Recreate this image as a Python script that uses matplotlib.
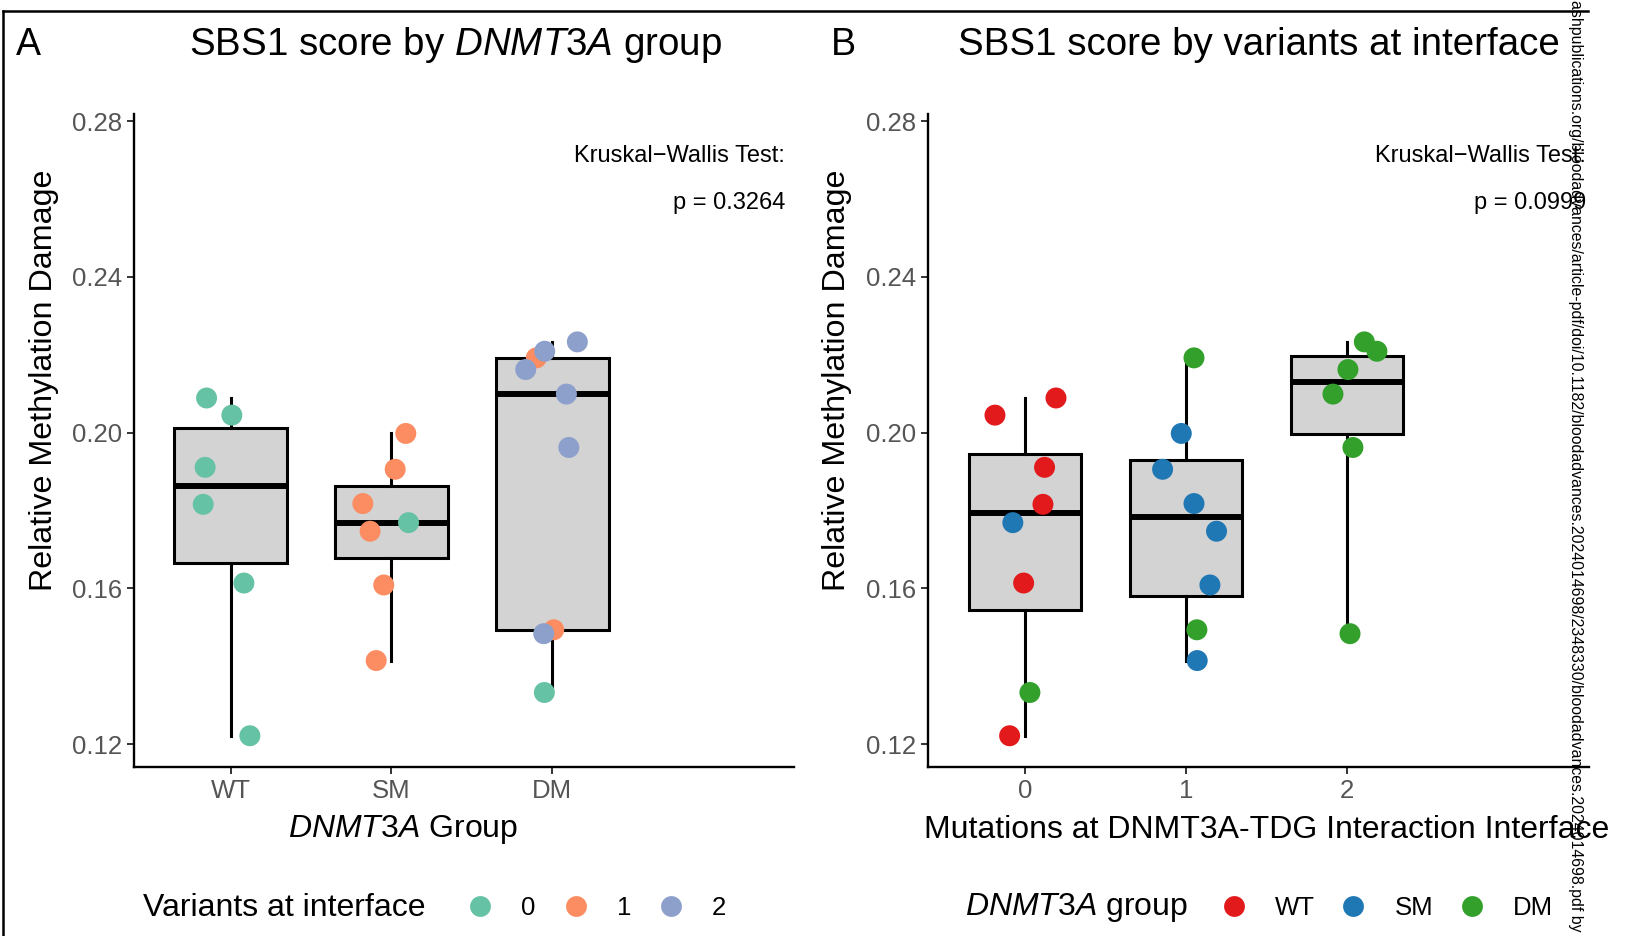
import matplotlib
matplotlib.use("Agg")
import matplotlib.pyplot as plt
from matplotlib.lines import Line2D
import numpy as np

plt.rcParams['font.family'] = ['Liberation Sans', 'DejaVu Sans']
plt.rcParams['mathtext.fontset'] = 'custom'
plt.rcParams['mathtext.rm'] = 'Liberation Sans'
plt.rcParams['mathtext.it'] = 'Liberation Sans:italic'
plt.rcParams['mathtext.bf'] = 'Liberation Sans:bold'

# samples
groups = ['WT'] * 6 + ['SM'] * 7 + ['DM'] * 9
variants = [0, 0, 0, 0, 0, 0,
            0, 1, 1, 1, 1, 1, 1,
            0, 1, 1, 2, 2, 2, 2, 2, 2]
scores = [0.2089, 0.2045, 0.1911, 0.1816, 0.1614, 0.1222,
          0.1769, 0.1998, 0.1906, 0.1818, 0.1747, 0.1609, 0.1415,
          0.1333, 0.2192, 0.1494, 0.2233, 0.2209, 0.2162, 0.2099, 0.1962, 0.1484]
# horizontal jitter of each dot, panel A and panel B
jitter_a = [-0.149, 0.008, -0.158, -0.170, 0.083, 0.120,
            0.106, 0.089, 0.023, -0.178, -0.133, -0.048, -0.095,
            -0.050, -0.100, 0.008, 0.155, -0.048, -0.166, 0.087, 0.102, -0.054]
jitter_b = [0.193, -0.186, 0.122, 0.112, -0.008, -0.095,
            -0.075, -0.029, -0.145, 0.050, 0.190, 0.149, 0.070,
            0.031, 0.050, 0.068, 0.108, 0.186, 0.006, -0.087, 0.037, 0.019]

group_names = ['WT', 'SM', 'DM']
variant_levels = [0, 1, 2]
variant_colors = ['#66C2A5', '#FC8D62', '#8DA0CB']
group_colors = ['#E31A1C', '#1F78B4', '#33A02C']
yticks = [0.12, 0.16, 0.20, 0.24, 0.28]
pvals = ['0.3264', '0.0999']

scores = np.array(scores)
gidx = np.array([group_names.index(g) for g in groups])
vidx = np.array(variants)

W, H = 1627, 936
fig = plt.figure(figsize=(W / 100, H / 100), dpi=100)


def px(x, y):
    return x / W, 1 - y / H


def style_axes(ax):
    for s in ['top', 'right']:
        ax.spines[s].set_visible(False)
    for s in ['left', 'bottom']:
        ax.spines[s].set_linewidth(1.7)
    ax.tick_params(length=5, width=1.4, color='#333333', labelsize=18.5,
                   labelcolor='#555555', pad=3.5)
    ax.set_ylim(0.1141, 0.2818)
    ax.set_yticks(yticks)
    ax.set_yticklabels(['%.2f' % t for t in yticks])


def draw_boxes(ax, positions, data):
    ax.boxplot(data, positions=positions, widths=0.7, whis=(0, 100),
               showfliers=False, showcaps=False, patch_artist=True,
               boxprops=dict(facecolor='#D3D3D3', edgecolor='black', linewidth=2.2),
               medianprops=dict(color='black', linewidth=4.3),
               whiskerprops=dict(color='black', linewidth=2.2), zorder=2)


def kw_text(ax, x, p):
    ax.text(x, 0.2709, 'Kruskal\u2212Wallis Test:', ha='right', va='center', fontsize=17)
    ax.text(x, 0.2589, 'p = ' + p, ha='right', va='center', fontsize=17)


b = (H - 767.3) / H
h = (767.3 - 114) / H
axA = fig.add_axes([134 / W, b, (793.8 - 134) / W, h])
axB = fig.add_axes([928.3 / W, b, (1588.5 - 928.3) / W, h])

# panel A: by DNMT3A group
posA = [1, 2, 3]
draw_boxes(axA, posA, [scores[gidx == i] for i in range(3)])
axA.scatter(gidx + 1 + np.array(jitter_a), scores,
            c=[variant_colors[v] for v in vidx], s=228, lw=0, zorder=3)
axA.set_xlim(0.4, 4.5)
axA.set_xticks(posA)
axA.set_xticklabels(group_names)
style_axes(axA)
kw_text(axA, 4.447, pvals[0])

# panel B: by variants at interface
posB = [0, 1, 2]
draw_boxes(axB, posB, [scores[vidx == v] for v in variant_levels])
axB.scatter(vidx + np.array(jitter_b), scores,
            c=[group_colors[g] for g in gidx], s=228, lw=0, zorder=3)
axB.set_xlim(-0.6, 3.5)
axB.set_xticks(posB)
axB.set_xticklabels([str(v) for v in variant_levels])
style_axes(axB)
kw_text(axB, 3.486, pvals[1])

# titles and panel letters
fig.text(*px(15.6, 55), 'A', fontsize=27, va='baseline', ha='left')
fig.text(*px(831, 55), 'B', fontsize=27, va='baseline', ha='left')
fig.text(*px(456, 55), r'SBS1 score by $\it{DNMT3A}$ group', fontsize=27.7,
         va='baseline', ha='center')
fig.text(*px(1258.6, 55), 'SBS1 score by variants at interface', fontsize=27.7,
         va='baseline', ha='center')

# axis titles
for xc in [43.6, 837]:
    fig.text(*px(xc, 380), 'Relative Methylation Damage', fontsize=23.2,
             rotation=90, ha='center', va='center')
fig.text(*px(402.6, 830), r'$\it{DNMT3A}$ Group', fontsize=23, ha='center', va='center')
fig.text(*px(1267, 830), 'Mutations at DNMT3A-TDG Interaction Interface',
         fontsize=23, ha='center', va='center')

# legends
fig.text(*px(143, 908), 'Variants at interface', fontsize=23, ha='left', va='center')
fig.text(*px(965, 908), r'$\it{DNMT3A}$ group', fontsize=23, ha='left', va='center')
hA = [Line2D([], [], marker='o', ls='', ms=15, mew=0, color=c) for c in variant_colors]
hB = [Line2D([], [], marker='o', ls='', ms=15, mew=0, color=c) for c in group_colors]
fig.legend(hA, [str(v) for v in variant_levels], ncol=3, loc='center left',
           bbox_to_anchor=px(467.5, 908), frameon=False, fontsize=18.5,
           handlelength=1.0, handletextpad=1.1, columnspacing=1.05,
           borderpad=0, borderaxespad=0)
fig.legend(hB, group_names, ncol=3, loc='center left',
           bbox_to_anchor=px(1220.9, 908), frameon=False, fontsize=18.5,
           handlelength=1.0, handletextpad=1.1, columnspacing=1.0,
           borderpad=0, borderaxespad=0)

# outer frame and side watermark
fig.add_artist(Line2D([3 / W, 1588 / W], [1 - 11 / H, 1 - 11 / H], color='black', lw=1.8))
fig.add_artist(Line2D([3 / W, 3 / W], [0, 1 - 11 / H], color='black', lw=1.8))
fig.text(*px(1575, 0), 'ashpublications.org/bloodadvances/article-pdf/doi/10.1182/'
         'bloodadvances.2024014698/2348330/bloodadvances.2024014698.pdf by',
         rotation=270, fontsize=11.4, ha='center', va='top')

fig.savefig('out.png', dpi=100)
